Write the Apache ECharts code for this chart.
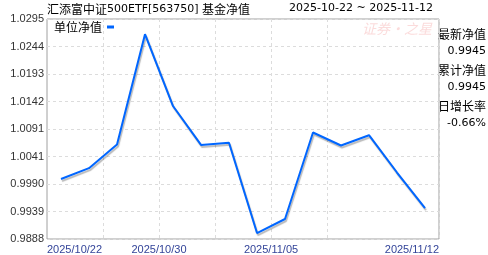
<!DOCTYPE html>
<html><head><meta charset="utf-8">
<script src="https://cdn.jsdelivr.net/npm/echarts@6/dist/echarts.min.js"></script>
<style>html,body{margin:0;padding:0;background:#fff;}#c{width:488px;height:255px;}</style>
</head><body><div id="c"></div>
<script>
const dates = ['2025/10/22','2025/10/23','2025/10/24','2025/10/27','2025/10/30','2025/10/31','2025/11/03','2025/11/04','2025/11/05','2025/11/06','2025/11/07','2025/11/10','2025/11/11','2025/11/12'];
const navValues = [0.9999,1.0019,1.0063,1.0267,1.0134,1.0062,1.0066,0.9899,0.9925,1.0085,1.0061,1.0080,1.0011,0.9945];
const yTickLabels = ['0.9888','0.9939','0.9990','1.0041','1.0091','1.0142','1.0193','1.0244','1.0295'];
const xTickIndex = [0,4,8,14];
const titleParts = ['汇添富中证','500ETF[563750] ','基金净值'];
const rangeText = '2025-10-22 ~ 2025-11-12';
const sideLabels = ['最新净值','0.9945','累计净值','0.9945','日增长率','-0.66%'];
const seriesName = '单位净值';

const yBase = parseFloat(yTickLabels[0]);
const yTop = parseFloat(yTickLabels[yTickLabels.length-1]);
const ySteps = yTickLabels.length - 1;
const yStep = (yTop - yBase) / ySteps;

const CJK = '"Noto Sans CJK SC", sans-serif';
const LAT = '"DejaVu Sans", sans-serif';
const chart = echarts.init(document.getElementById('c'), null, {renderer:'canvas'});
const side = sideLabels.map((t,i)=>{
  const isNum = i % 2 === 1;
  return {
    type:'text', right: 2, top: 28 + i*18,
    style:{text:t, fill:'#000', font: isNum ? ('11px '+LAT) : ('12px '+CJK), textAlign:'right'}
  };
});
chart.setOption({
  animation:false,
  grid:{left:47,right:49,top:19,bottom:15,show:true,borderColor:'#a0a0a0',borderWidth:1,containLabel:false},
  legend:{show:true,left:49,top:16,align:'right',icon:'rect',itemWidth:7,itemHeight:3,itemGap:0,
    textStyle:{fontFamily:CJK,fontSize:12,color:'#000'},data:[seriesName]},
  xAxis:[{
    type:'category',data:dates,boundaryGap:true,
    axisLine:{show:false},axisTick:{show:false},axisLabel:{show:false},
    splitLine:{show:true,interval:(i)=>i>0&&i%2===0&&i<12,lineStyle:{color:'#dcdcdc',type:[3,3],width:1}}
  },{
    type:'value',min:0,max:dates.length,position:'bottom',
    axisLine:{show:false},axisTick:{show:false},splitLine:{show:false},
    axisLabel:{show:true,customValues:xTickIndex,margin:5,color:'#334499',fontSize:11,
      fontFamily:'"Liberation Sans", Arial, sans-serif',
      alignMinLabel:'left',alignMaxLabel:'right',
      formatter:(v)=>dates[Math.min(Math.round(v),dates.length-1)]}
  }],
  yAxis:{
    type:'value',min:0,max:yTop-yBase,interval:yStep,
    axisLine:{show:false},axisTick:{show:false},
    splitLine:{show:true,lineStyle:{color:'#dcdcdc',type:[3,3],width:1}},
    axisLabel:{margin:3,color:'#333',fontSize:11,fontFamily:'"Liberation Sans", Arial, sans-serif',
      formatter:(v)=>yTickLabels[Math.round(v/yStep)]}
  },
  series:[{
    name:seriesName,type:'line',xAxisIndex:0,
    data:navValues.map(v=>v-yBase),
    showSymbol:false,symbol:'none',
    itemStyle:{color:'#0066ff'},
    lineStyle:{color:'#0066ff',width:2,shadowColor:'rgba(0,0,0,0.28)',shadowOffsetX:1,shadowOffsetY:2,shadowBlur:1}
  }],
  graphic:[
    {type:'text',left:47,top:3,style:{
      text:'{c|'+titleParts[0]+'}{l|'+titleParts[1]+'}{c|'+titleParts[2]+'}',
      rich:{c:{fontFamily:CJK,fontSize:12,fill:'#000',color:'#000'},l:{fontFamily:LAT,fontSize:11,fill:'#000',color:'#000'}}}},
    {type:'text',left:289,top:3,style:{text:rangeText,fill:'#000',font:'11px '+LAT}},
    {type:'text',left:362,top:22,style:{text:'证券·之星',fill:'rgba(240,110,110,0.25)',font:'italic 14px '+CJK}},
    ...side
  ]
});
</script></body></html>
